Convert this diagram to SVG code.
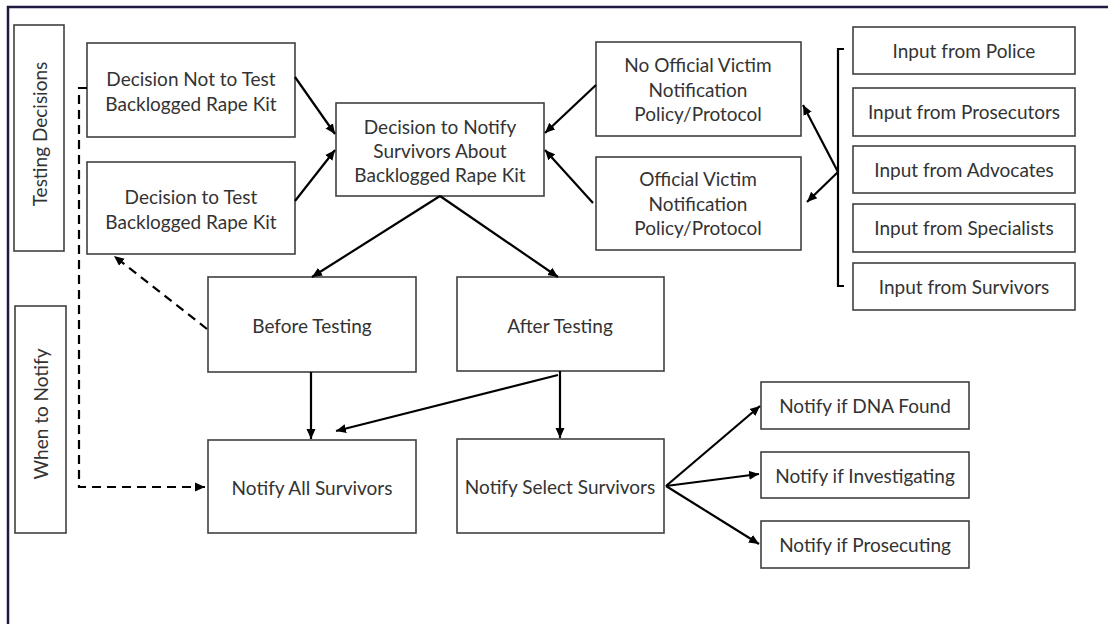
<svg xmlns="http://www.w3.org/2000/svg" width="1108" height="624" viewBox="0 0 1108 624">
<style>
.box{fill:#fff;stroke:#404040;stroke-width:1.6}
.t{font-family:Lato,"Liberation Sans",sans-serif;font-size:19px;fill:#333;text-anchor:middle;dominant-baseline:central}
.c{fill:none;stroke:#000;stroke-width:2.2}
.d{fill:none;stroke:#000;stroke-width:2.2;stroke-dasharray:9,6}
</style>
<defs>
<marker id="ah" markerUnits="userSpaceOnUse" markerWidth="12" markerHeight="10" refX="10" refY="5" orient="auto">
<path d="M0,0.5 L10,5 L0,9.5 Z" fill="#000"/>
</marker>
</defs>
<rect width="1108" height="624" fill="#fff"/>
<path d="M8,624 V7 H1108" fill="none" stroke="#1f1a40" stroke-width="2.5"/>

<g id="testing-decisions"><rect class="box" x="14" y="25" width="50" height="226"/><text class="t" transform="translate(39,134) rotate(-90)">Testing Decisions</text></g>
<g id="when-to-notify"><rect class="box" x="15" y="306" width="51" height="227"/><text class="t" transform="translate(40,414) rotate(-90)">When to Notify</text></g>

<g id="decision-not-test"><rect class="box" x="87" y="43" width="208" height="94"/><text class="t" x="191" y="78">Decision Not to Test</text><text class="t" x="191" y="103">Backlogged Rape Kit</text></g>
<g id="decision-test"><rect class="box" x="87" y="162" width="208" height="92"/><text class="t" x="191" y="196">Decision to Test</text><text class="t" x="191" y="221">Backlogged Rape Kit</text></g>
<g id="decision-notify"><rect class="box" x="336" y="103" width="208" height="93"/><text class="t" x="440" y="126">Decision to Notify</text><text class="t" x="440" y="150">Survivors About</text><text class="t" x="440" y="174">Backlogged Rape Kit</text></g>
<g id="no-official"><rect class="box" x="596" y="42" width="205" height="94"/><text class="t" x="698" y="64">No Official Victim</text><text class="t" x="698" y="89">Notification</text><text class="t" x="698" y="113">Policy/Protocol</text></g>
<g id="official"><rect class="box" x="596" y="157" width="205" height="93"/><text class="t" x="698" y="178">Official Victim</text><text class="t" x="698" y="203">Notification</text><text class="t" x="698" y="227">Policy/Protocol</text></g>

<g id="input-police"><rect class="box" x="853" y="27" width="222" height="47"/><text class="t" x="964" y="50">Input from Police</text></g>
<g id="input-prosecutors"><rect class="box" x="853" y="88" width="222" height="48"/><text class="t" x="964" y="111">Input from Prosecutors</text></g>
<g id="input-advocates"><rect class="box" x="853" y="146" width="222" height="47"/><text class="t" x="964" y="169">Input from Advocates</text></g>
<g id="input-specialists"><rect class="box" x="853" y="204" width="222" height="48"/><text class="t" x="964" y="227">Input from Specialists</text></g>
<g id="input-survivors"><rect class="box" x="853" y="263" width="222" height="47"/><text class="t" x="964" y="286">Input from Survivors</text></g>

<g id="before-testing"><rect class="box" x="208" y="277" width="208" height="95"/><text class="t" x="312" y="325">Before Testing</text></g>
<g id="after-testing"><rect class="box" x="457" y="277" width="207" height="94"/><text class="t" x="560" y="325">After Testing</text></g>
<g id="notify-all"><rect class="box" x="208" y="440" width="208" height="93"/><text class="t" x="312" y="487">Notify All Survivors</text></g>
<g id="notify-select"><rect class="box" x="457" y="439" width="207" height="94"/><text class="t" x="560" y="486">Notify Select Survivors</text></g>
<g id="notify-dna"><rect class="box" x="761" y="382" width="208" height="47"/><text class="t" x="865" y="405">Notify if DNA Found</text></g>
<g id="notify-investigating"><rect class="box" x="761" y="452" width="208" height="46"/><text class="t" x="865" y="475">Notify if Investigating</text></g>
<g id="notify-prosecuting"><rect class="box" x="761" y="521" width="208" height="47"/><text class="t" x="865" y="544">Notify if Prosecuting</text></g>

<g id="connectors">
<line class="c" x1="295" y1="77" x2="335" y2="134" marker-end="url(#ah)"/>
<line class="c" x1="295" y1="201" x2="335" y2="150" marker-end="url(#ah)"/>
<line class="c" x1="596" y1="85" x2="545" y2="133" marker-end="url(#ah)"/>
<line class="c" x1="593" y1="203" x2="545" y2="150" marker-end="url(#ah)"/>
<path class="c" d="M844,49 H838 V286 H844"/>
<line class="c" x1="838" y1="172" x2="803" y2="105" marker-end="url(#ah)"/>
<line class="c" x1="838" y1="172" x2="807" y2="202" marker-end="url(#ah)"/>
<line class="c" x1="440" y1="196" x2="312" y2="277" marker-end="url(#ah)"/>
<line class="c" x1="440" y1="196" x2="558" y2="277" marker-end="url(#ah)"/>
<line class="c" x1="311" y1="372" x2="311" y2="439" marker-end="url(#ah)"/>
<line class="c" x1="560" y1="371" x2="560" y2="438" marker-end="url(#ah)"/>
<line class="c" x1="558" y1="375" x2="336" y2="431" marker-end="url(#ah)"/>
<line class="c" x1="666" y1="486" x2="760" y2="406" marker-end="url(#ah)"/>
<line class="c" x1="666" y1="486" x2="759" y2="474" marker-end="url(#ah)"/>
<line class="c" x1="666" y1="486" x2="759" y2="544" marker-end="url(#ah)"/>
<line class="d" x1="207" y1="329" x2="114" y2="256" marker-end="url(#ah)"/>
<path class="d" d="M87,88 H79 V487 H205" marker-end="url(#ah)"/>
</g>
</svg>
